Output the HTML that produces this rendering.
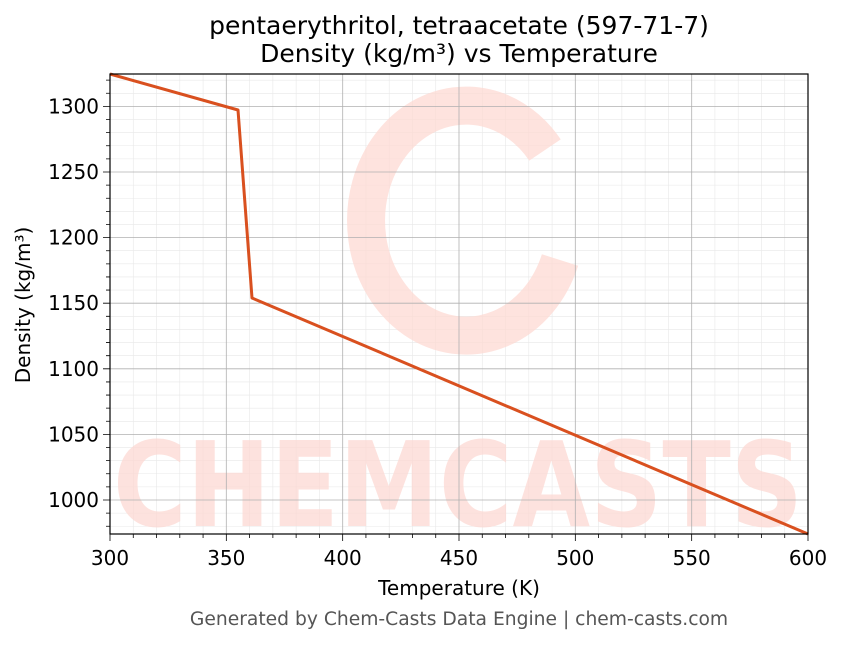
<!DOCTYPE html>
<html><head><meta charset="utf-8"><style>
body{margin:0;background:#fff;}
svg text{font-family:"DejaVu Sans","Liberation Sans",sans-serif;}
</style></head><body>
<svg width="843" height="644" viewBox="0 0 843 644" xmlns="http://www.w3.org/2000/svg">
<rect width="843" height="644" fill="#fff"/>
<path stroke="#e8e8e8" stroke-width="0.6" fill="none" d="
M133.27,74V534M156.53,74V534M179.8,74V534M203.07,74V534M249.6,74V534M272.87,74V534M296.13,74V534M319.4,74V534M365.93,74V534M389.2,74V534M412.47,74V534M435.73,74V534M482.27,74V534M505.53,74V534M528.8,74V534M552.07,74V534M598.6,74V534M621.87,74V534M645.13,74V534M668.4,74V534M714.93,74V534M738.2,74V534M761.47,74V534M784.73,74V534
M110,526.24H808M110,513.12H808M110,486.88H808M110,473.76H808M110,460.64H808M110,447.52H808M110,421.28H808M110,408.16H808M110,395.04H808M110,381.92H808M110,355.68H808M110,342.56H808M110,329.44H808M110,316.32H808M110,290.08H808M110,276.96H808M110,263.84H808M110,250.72H808M110,224.48H808M110,211.36H808M110,198.24H808M110,185.12H808M110,158.88H808M110,145.76H808M110,132.64H808M110,119.52H808M110,93.28H808M110,80.16H808"/>
<g fill="#fdd9d3" opacity="0.75">
<text x="458" y="526" font-size="118" font-weight="bold" text-anchor="middle" textLength="690" lengthAdjust="spacingAndGlyphs">CHEMCASTS</text>
</g>
<path d="M545,150 A100,115 0 1 0 560,260" fill="none" stroke="#fdd9d3" stroke-width="38" opacity="0.75"/>
<g stroke="#b0b0b0" stroke-width="0.8">
<line x1="226.3" y1="74" x2="226.3" y2="534"/><line x1="342.7" y1="74" x2="342.7" y2="534"/>
<line x1="459" y1="74" x2="459" y2="534"/><line x1="575.3" y1="74" x2="575.3" y2="534"/>
<line x1="691.7" y1="74" x2="691.7" y2="534"/>
<line x1="110" y1="106.4" x2="808" y2="106.4"/><line x1="110" y1="172" x2="808" y2="172"/>
<line x1="110" y1="237.6" x2="808" y2="237.6"/><line x1="110" y1="303.2" x2="808" y2="303.2"/>
<line x1="110" y1="368.8" x2="808" y2="368.8"/><line x1="110" y1="434.4" x2="808" y2="434.4"/>
<line x1="110" y1="500" x2="808" y2="500"/>
</g>
<polyline points="110,74 238,110 252,298 808,534" fill="none" stroke="#d9501f" stroke-width="3" stroke-linejoin="round"/>
<rect x="110" y="74" width="698" height="460" fill="none" stroke="#000" stroke-width="1.2"/>
<path stroke="#000" stroke-width="0.8" fill="none" d="
M110,534v7M226.33,534v7M342.67,534v7M459,534v7M575.33,534v7M691.67,534v7M808,534v7
M133.27,534v4M156.53,534v4M179.8,534v4M203.07,534v4M249.6,534v4M272.87,534v4M296.13,534v4M319.4,534v4M365.93,534v4M389.2,534v4M412.47,534v4M435.73,534v4M482.27,534v4M505.53,534v4M528.8,534v4M552.07,534v4M598.6,534v4M621.87,534v4M645.13,534v4M668.4,534v4M714.93,534v4M738.2,534v4M761.47,534v4M784.73,534v4
M110,500h-7M110,434.4h-7M110,368.8h-7M110,303.2h-7M110,237.6h-7M110,172h-7M110,106.4h-7
M110,526.24h-4M110,513.12h-4M110,486.88h-4M110,473.76h-4M110,460.64h-4M110,447.52h-4M110,421.28h-4M110,408.16h-4M110,395.04h-4M110,381.92h-4M110,355.68h-4M110,342.56h-4M110,329.44h-4M110,316.32h-4M110,290.08h-4M110,276.96h-4M110,263.84h-4M110,250.72h-4M110,224.48h-4M110,211.36h-4M110,198.24h-4M110,185.12h-4M110,158.88h-4M110,145.76h-4M110,132.64h-4M110,119.52h-4M110,93.28h-4M110,80.16h-4"/>
<g font-size="20" fill="#000">
<text x="110" y="565" text-anchor="middle">300</text><text x="226.3" y="565" text-anchor="middle">350</text>
<text x="342.7" y="565" text-anchor="middle">400</text><text x="459" y="565" text-anchor="middle">450</text>
<text x="575.3" y="565" text-anchor="middle">500</text><text x="691.7" y="565" text-anchor="middle">550</text>
<text x="808" y="565" text-anchor="middle">600</text>
<g text-anchor="end">
<text x="99" y="113.4">1300</text><text x="99" y="179">1250</text><text x="99" y="244.6">1200</text>
<text x="99" y="310.2">1150</text><text x="99" y="375.8">1100</text><text x="99" y="441.4">1050</text>
<text x="99" y="507">1000</text>
</g>
<text x="459" y="595" text-anchor="middle">Temperature (K)</text>
<text transform="translate(30,305) rotate(-90)" text-anchor="middle">Density (kg/m³)</text>
</g>
<text x="459" y="34" font-size="25" text-anchor="middle">pentaerythritol, tetraacetate (597-71-7)</text>
<text x="459" y="62" font-size="25" text-anchor="middle">Density (kg/m³) vs Temperature</text>
<text x="459" y="625" font-size="18.7" fill="#555" text-anchor="middle">Generated by Chem-Casts Data Engine | chem-casts.com</text>
</svg>
</body></html>
